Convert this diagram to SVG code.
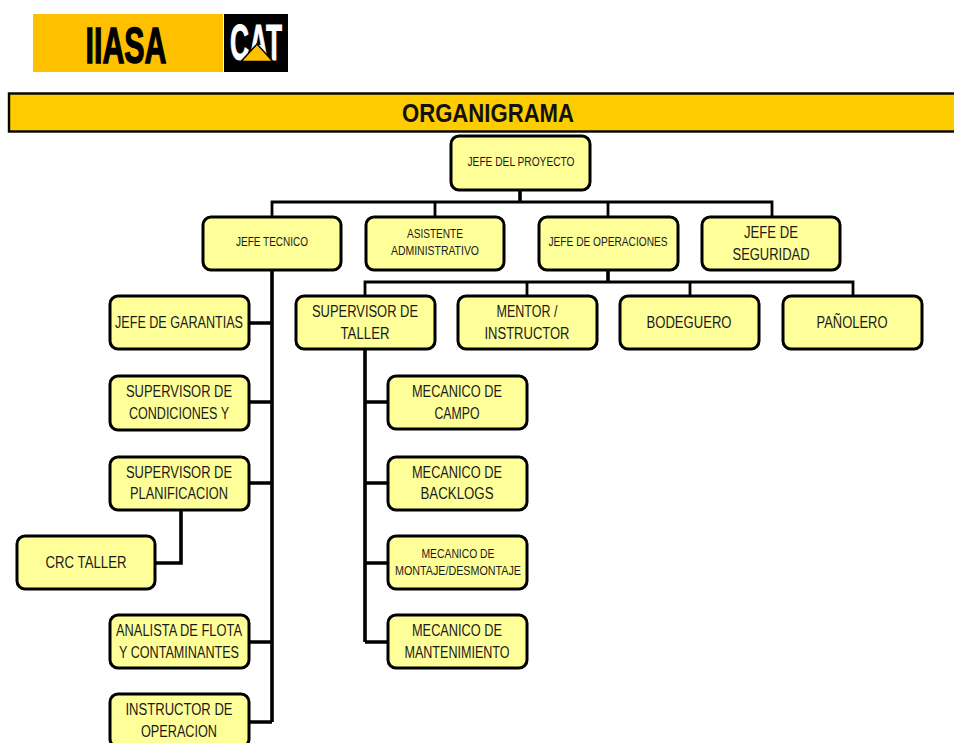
<svg xmlns="http://www.w3.org/2000/svg" width="954" height="743" viewBox="0 0 954 743">
<style>
.n{fill:#ffff99;stroke:#000;stroke-width:3}
.c{fill:none;stroke:#000;stroke-width:3.600}
.c2{fill:none;stroke:#000;stroke-width:2.800}
text{font-family:"Liberation Sans",Arial,sans-serif;text-anchor:middle;fill:#1a1a1a}
.l{font-size:16px;transform:translateY(.5px)}
.s{font-size:12.500px}
.m{font-size:12px}
</style>
<rect width="954" height="743" fill="#fff"/>
<g id="logo">
<rect x="33" y="14" width="190" height="58" fill="#ffc000"/>
<text x="126" y="63" font-size="50" font-weight="700" textLength="81" lengthAdjust="spacingAndGlyphs" stroke="#000" stroke-width="1.400" style="fill:#000">IIASA</text>
<rect x="224" y="14" width="64" height="58" fill="#000"/>
<text x="256" y="60" font-size="50" font-weight="700" textLength="52" lengthAdjust="spacingAndGlyphs" stroke="#fff" stroke-width="1" style="fill:#fff">CAT</text>
<path d="M241 61.500L257 44L273 61.500Z" fill="#ffc000" stroke="#000" stroke-width="1.500"/>
</g>
<g id="banner">
<rect x="9" y="93.500" width="950" height="38" fill="#ffcc00" stroke="#000" stroke-width="2.400"/>
<text x="488" y="122" font-size="26" font-weight="700" textLength="172" lengthAdjust="spacingAndGlyphs" style="fill:#111">ORGANIGRAMA</text>
</g>
<g id="connectors">
<path class="c" d="M520 190V202M608 270V283"/>
<path class="c2" d="M272 217V202H772V217M435 202V217M608 202V217"/>
<path class="c2" d="M365 296V282H853V296M527 282V296M690 282V296"/>
<path class="c" d="M272 270V722M249 323H272M249 402H272M249 483H272M249 642H272M249 722H272"/>
<path class="c" d="M365 349V642M365 402H388M365 483H388M365 563H388M365 642H388"/>
<path class="c" d="M181 510V563H155"/>
</g>
<g id="n-jefe-proyecto"><rect class="n" x="451" y="136" width="139" height="54" rx="8"/><text class="s" x="521" y="166" textLength="107" lengthAdjust="spacingAndGlyphs">JEFE DEL PROYECTO</text></g>
<g id="n-jefe-tecnico"><rect class="n" x="203" y="217" width="138" height="53" rx="8"/><text class="s" x="272" y="246" textLength="72" lengthAdjust="spacingAndGlyphs">JEFE TECNICO</text></g>
<g id="n-asistente"><rect class="n" x="366" y="217" width="138" height="53" rx="8"/><text class="s" x="435" y="238" textLength="56" lengthAdjust="spacingAndGlyphs">ASISTENTE</text><text class="s" x="435" y="255" textLength="88" lengthAdjust="spacingAndGlyphs">ADMINISTRATIVO</text></g>
<g id="n-jefe-operaciones"><rect class="n" x="539" y="217" width="139" height="53" rx="8"/><text class="s" x="608" y="246" textLength="119" lengthAdjust="spacingAndGlyphs">JEFE DE OPERACIONES</text></g>
<g id="n-jefe-seguridad"><rect class="n" x="702" y="217" width="138" height="53" rx="8"/><text class="l" x="771" y="237" textLength="54" lengthAdjust="spacingAndGlyphs">JEFE DE</text><text class="l" x="771" y="259" textLength="77" lengthAdjust="spacingAndGlyphs">SEGURIDAD</text></g>
<g id="n-garantias"><rect class="n" x="110" y="296" width="139" height="53" rx="8"/><text class="l" x="179" y="327" textLength="128" lengthAdjust="spacingAndGlyphs">JEFE DE GARANTIAS</text></g>
<g id="n-sup-taller"><rect class="n" x="296" y="296" width="139" height="53" rx="8"/><text class="l" x="365" y="316" textLength="106" lengthAdjust="spacingAndGlyphs">SUPERVISOR DE</text><text class="l" x="365" y="338" textLength="49" lengthAdjust="spacingAndGlyphs">TALLER</text></g>
<g id="n-mentor"><rect class="n" x="458" y="296" width="139" height="53" rx="8"/><text class="l" x="527" y="316" textLength="61" lengthAdjust="spacingAndGlyphs">MENTOR /</text><text class="l" x="527" y="338" textLength="85" lengthAdjust="spacingAndGlyphs">INSTRUCTOR</text></g>
<g id="n-bodeguero"><rect class="n" x="620" y="296" width="139" height="53" rx="8"/><text class="l" x="689" y="327" textLength="85" lengthAdjust="spacingAndGlyphs">BODEGUERO</text></g>
<g id="n-panolero"><rect class="n" x="783" y="296" width="139" height="53" rx="8"/><text class="l" x="852" y="327" textLength="71" lengthAdjust="spacingAndGlyphs">PAÑOLERO</text></g>
<g id="n-sup-condiciones"><rect class="n" x="110" y="376" width="139" height="54" rx="8"/><text class="l" x="179" y="396" textLength="106" lengthAdjust="spacingAndGlyphs">SUPERVISOR DE</text><text class="l" x="179" y="418" textLength="100" lengthAdjust="spacingAndGlyphs">CONDICIONES Y</text></g>
<g id="n-sup-planificacion"><rect class="n" x="110" y="457" width="139" height="53" rx="8"/><text class="l" x="179" y="477" textLength="106" lengthAdjust="spacingAndGlyphs">SUPERVISOR DE</text><text class="l" x="179" y="498" textLength="98" lengthAdjust="spacingAndGlyphs">PLANIFICACION</text></g>
<g id="n-crc"><rect class="n" x="17" y="536" width="138" height="53" rx="8"/><text class="l" x="86" y="567" textLength="81" lengthAdjust="spacingAndGlyphs">CRC TALLER</text></g>
<g id="n-analista"><rect class="n" x="110" y="615" width="139" height="53" rx="8"/><text class="l" x="179" y="635" textLength="126" lengthAdjust="spacingAndGlyphs">ANALISTA DE FLOTA</text><text class="l" x="179" y="657" textLength="120" lengthAdjust="spacingAndGlyphs">Y CONTAMINANTES</text></g>
<g id="n-instructor"><rect class="n" x="110" y="694" width="139" height="53" rx="8"/><text class="l" x="179" y="714" textLength="107" lengthAdjust="spacingAndGlyphs">INSTRUCTOR DE</text><text class="l" x="179" y="736" textLength="76" lengthAdjust="spacingAndGlyphs">OPERACION</text></g>
<g id="n-mec-campo"><rect class="n" x="388" y="376" width="139" height="53" rx="8"/><text class="l" x="457" y="396" textLength="90" lengthAdjust="spacingAndGlyphs">MECANICO DE</text><text class="l" x="457" y="418" textLength="45" lengthAdjust="spacingAndGlyphs">CAMPO</text></g>
<g id="n-mec-backlogs"><rect class="n" x="388" y="457" width="139" height="53" rx="8"/><text class="l" x="457" y="477" textLength="90" lengthAdjust="spacingAndGlyphs">MECANICO DE</text><text class="l" x="457" y="498" textLength="73" lengthAdjust="spacingAndGlyphs">BACKLOGS</text></g>
<g id="n-mec-montaje"><rect class="n" x="388" y="536" width="139" height="53" rx="8"/><text class="m" x="458" y="558" textLength="73" lengthAdjust="spacingAndGlyphs">MECANICO DE</text><text class="m" x="458" y="575" textLength="126" lengthAdjust="spacingAndGlyphs">MONTAJE/DESMONTAJE</text></g>
<g id="n-mec-mantenimiento"><rect class="n" x="388" y="615" width="139" height="53" rx="8"/><text class="l" x="457" y="635" textLength="90" lengthAdjust="spacingAndGlyphs">MECANICO DE</text><text class="l" x="457" y="657" textLength="105" lengthAdjust="spacingAndGlyphs">MANTENIMIENTO</text></g>
</svg>
